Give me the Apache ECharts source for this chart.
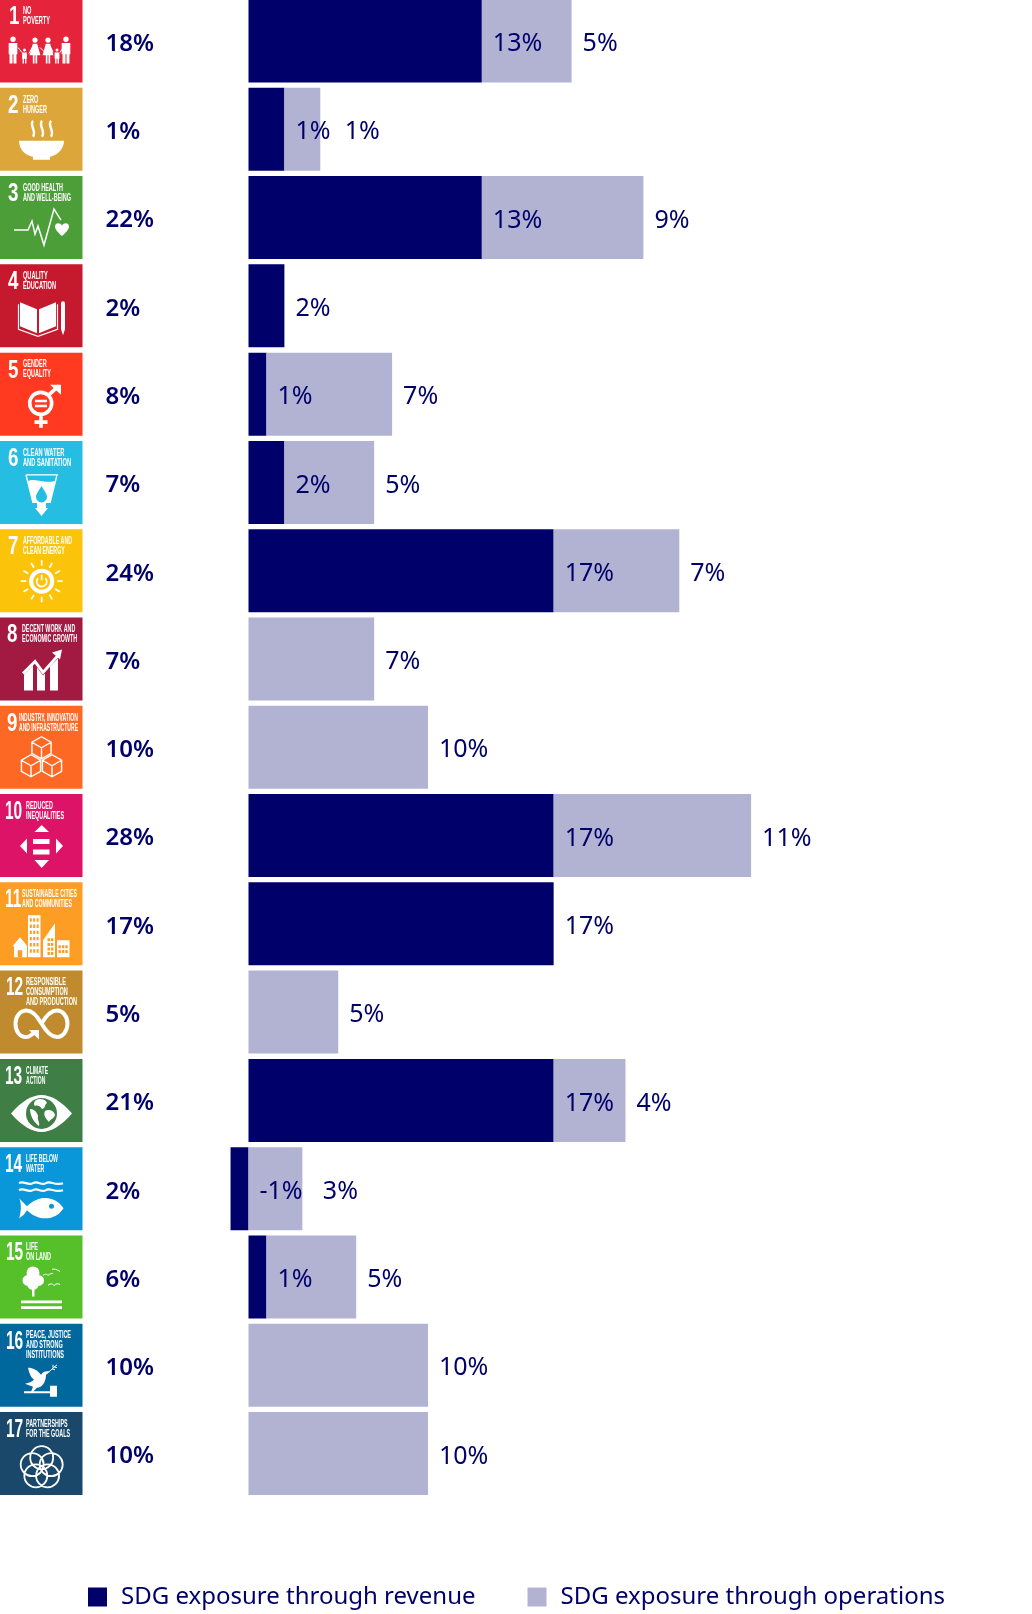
<!DOCTYPE html>
<html>
<head>
<meta charset="utf-8">
<title>SDG exposure</title>
<style>
  html, body { margin: 0; padding: 0; background: #fff; }
  #chart { width: 1032px; height: 1614px; }
</style>
<script src="https://cdn.jsdelivr.net/npm/echarts@6/dist/echarts.min.js"></script>
</head>
<body>
<div id="chart"></div>
<script>
const goals = ['1','2','3','4','5','6','7','8','9','10','11','12','13','14','15','16','17'];
// bar lengths as drawn, the printed labels do not always agree with them (goal 2)
const revenue = [13, 2, 13, 2, 1, 2, 17, 0, 0, 17, 17, 0, 17, -1, 1, 0, 0];
const operations = [5, 2, 9, 0, 7, 5, 7, 7, 10, 11, 0, 5, 4, 3, 5, 10, 10];
const revenueLabels = ['13%','1%','13%','2%','1%','2%','17%','','','17%','17%','','17%','-1%','1%','',''];
const operationsLabels = ['5%','1%','9%','','7%','5%','7%','7%','10%','11%','','5%','4%','3%','5%','10%','10%'];
const totalLabels = ['18%','1%','22%','2%','8%','7%','24%','7%','10%','28%','17%','5%','21%','2%','6%','10%','10%'];

const tileColors = ['#e5243b','#dda63a','#4c9f38','#c5192d','#ff3a21','#26bde2','#fcc30b','#a21942','#fd6925','#dd1367','#fd9d24','#bf8b2e','#3f7e44','#0a97d9','#56c02b','#00689d','#19486a'];
const tileCaptions = [
  ['NO','POVERTY'], ['ZERO','HUNGER'], ['GOOD HEALTH','AND WELL-BEING'], ['QUALITY','EDUCATION'],
  ['GENDER','EQUALITY'], ['CLEAN WATER','AND SANITATION'], ['AFFORDABLE AND','CLEAN ENERGY'],
  ['DECENT WORK AND','ECONOMIC GROWTH'], ['INDUSTRY, INNOVATION','AND INFRASTRUCTURE'],
  ['REDUCED','INEQUALITIES'], ['SUSTAINABLE CITIES','AND COMMUNITIES'],
  ['RESPONSIBLE','CONSUMPTION','AND PRODUCTION'], ['CLIMATE','ACTION'], ['LIFE BELOW','WATER'],
  ['LIFE','ON LAND'], ['PEACE, JUSTICE','AND STRONG','INSTITUTIONS'], ['PARTNERSHIPS','FOR THE GOALS']
];
const captionX = [23,23,23,23,23,23,23,22,19,26,22,26,26,26,26,26,26];
const captionW = [27,24,48,33,28,48,49,55,59,38,55,51,22,32,25,45,44];
const numberX = [9,8,8,8,8,8,8,7,7,5,5,6,5,5,6,6,6];

const NAVY = '#00006b';
const LILAC = '#b2b2d2';

// the source pushes these two labels clear of the revenue label next to them
const operationsNudge = { 1: 13.5, 13: 9.5 };

// little path helpers for the pictograms, all in tile coordinates
function circle(cx, cy, r) {
  return `M${cx - r} ${cy}A${r} ${r} 0 1 1 ${cx + r} ${cy}A${r} ${r} 0 1 1 ${cx - r} ${cy}Z`;
}
function box(x, y, w, h) {
  return `M${x} ${y}H${x + w}V${y + h}H${x}Z`;
}
function man(cx, top, h) {
  const r = h * 0.1, s = top + r * 2 + 1, w = h * 0.16;
  return circle(cx, top + r, r) +
    `M${cx - w} ${s}H${cx + w}V${s + h * 0.42}H${cx + w * 0.8}V${top + h}H${cx + 0.5}V${s + h * 0.42}H${cx - 0.5}V${top + h}H${cx - w * 0.8}V${s + h * 0.42}H${cx - w}Z`;
}
function woman(cx, top, h) {
  const r = h * 0.1, s = top + r * 2 + 1, w = h * 0.14;
  return circle(cx, top + r, r) +
    `M${cx - w * 0.6} ${s}H${cx + w * 0.6}L${cx + w * 1.5} ${top + h * 0.68}H${cx + w * 0.6}V${top + h}H${cx + 0.5}V${top + h * 0.68}H${cx - 0.5}V${top + h}H${cx - w * 0.6}V${top + h * 0.68}H${cx - w * 1.5}Z`;
}
function cube(cx, cy, s) {
  const w = s * 0.87;
  return `M${cx} ${cy - s}L${cx + w} ${cy - s / 2}V${cy + s / 2}L${cx} ${cy + s}L${cx - w} ${cy + s / 2}V${cy - s / 2}ZM${cx - w} ${cy - s / 2}L${cx} ${cy}L${cx + w} ${cy - s / 2}M${cx} ${cy}V${cy + s}`;
}
function sunRays() {
  let d = '';
  for (let a = 0; a < 12; a++) {
    const t = a * Math.PI / 6;
    d += `M${41.7 + 15.5 * Math.cos(t)} ${52 + 15.5 * Math.sin(t)}L${41.7 + 21 * Math.cos(t)} ${52 + 21 * Math.sin(t)}`;
  }
  return d;
}
function windows() {
  let d = '';
  for (let r = 0; r < 6; r++) for (let c = 0; c < 3; c++) d += box(29.8 + c * 3.4, 36 + r * 6.2, 2, 3.4);
  d += box(17.8, 68, 4.4, 7);
  for (let r = 0; r < 2; r++) for (let c = 0; c < 3; c++) d += box(58.5 + c * 3.4, 63 + r * 4.8, 2.4, 3);
  for (let r = 0; r < 4; r++) for (let c = 0; c < 2; c++) d += box(47.5 + c * 3.4, 56 + r * 4.6, 2.4, 3);
  return d;
}
function flower() {
  let d = '';
  for (let a = 0; a < 5; a++) {
    const t = -Math.PI / 2 + a * 2 * Math.PI / 5;
    d += circle(41.7 + 10 * Math.cos(t), 55.7 + 10 * Math.sin(t), 11.5);
  }
  return d;
}

const tileIcons = [
  { fill: man(13, 37, 27) + woman(35, 38, 26) + woman(48, 38, 26) + man(66, 37, 27) + man(24.5, 49, 15) + man(57, 49, 15),
    stroke: 'M18 48L22 53M29 54L32 48M40 48L44 52M51 48L53 53M60 53L63 48', lw: 1 },
  { fill: 'M19 53H64C64 63 55 68 50 69V72H33V69C27 68 19 63 19 53Z',
    stroke: 'M33 33C29 38 37 43 33 49M42 33C38 38 46 43 42 49M51 33C47 38 55 43 51 49', lw: 2.4 },
  { fill: 'M62 60C56 55 55 52 55 50.5C55 46.5 60 46 62 49.5C64 46 69 46.5 69 50.5C69 52 68 55 62 60Z',
    stroke: 'M14 54H28L32 45L35 58L38 50L44 69L54 33L61 44', lw: 1.5 },
  { fill: 'M20 38L37 45V69L20 62ZM39 45L56 38V62L39 69ZM61 39A2 2 0 0 1 65 39V65L63 71L61 65Z',
    stroke: 'M18.5 40V65L38 72L57.5 65V40', lw: 1.2 },
  { fill: box(35, 47, 12, 2.6) + box(35, 52, 12, 2.6) + 'M50 32H61V42Z',
    stroke: circle(40.7, 50.7, 11) + 'M41 62V75M34.5 69.5H47.5M48 43L59 33', lw: 3.6 },
  { fill: 'M28 40C35 37 42 43 55 40L50 62H46V67H48L41.5 75L35 67H37V62H33Z',
    cut: 'M41.5 45C38 51 36 53 36 56A5.5 5.5 0 0 0 47 56C47 53 45 51 41.5 45Z',
    stroke: 'M26 34H57L50 62M26 34L33 62', lw: 1.4 },
  { fill: circle(41.7, 52, 12.5), cut: circle(41.7, 52, 8.5),
    stroke: sunRays() + 'M38 49A5 5 0 1 0 45.4 49M41.7 45.5V51', lw: 1.7 },
  { fill: 'M24 57L33 48V73H24ZM37 50L43 58L45 56V73H37ZM50 49L58 41V73H50ZM52 35L62 32L60 42Z',
    stroke: 'M23 56L35 44L43 55L58 38', lw: 3 },
  { stroke: cube(41.5, 42, 11) + cube(31, 60, 11) + cube(52, 60, 11), lw: 1.4 },
  { fill: 'M41.7 31L49 38H34.5ZM41.7 74L49 66H34.5ZM20 52L27 44.5V59.5ZM63 52L56 44.5V59.5Z' + box(33, 45, 16.5, 5) + box(33, 55.5, 16.5, 5) },
  { fill: 'M20 55L27.5 64H27V75H14V64H12.5Z' + box(28, 33, 12.5, 42) + 'M43 75V58L55 41V75Z' + box(57, 58, 12.5, 17),
    cut: windows() },
  { stroke: 'M34 62C31 65 29 66.5 26 66.5C19 66.5 15.5 60 15.5 53C15.5 46 20 40 26.5 40C33 40 38 47 41.5 53C45 59 50 66.5 57 66.5C63 66.5 67.5 60 67.5 53C67.5 46 63 40 57 40C50 40 45 47 41.5 53',
    fill: 'M29 59.5H39V69Z', lw: 4 },
  { fill: 'M11 54.5C22 42 32 36 41.5 36C51 36 61 42 72 54.5C61 67 51 73 41.5 73C32 73 22 67 11 54.5Z',
    cut: circle(41.5, 54.5, 15.5),
    top: 'M36 41C41 39 46 41 47 44C44 46 46 49 42 50C40 47 37 46 35 47C33 45 34 43 36 41ZM45 52C49 50 54 52 55 56C54 60 50 60 49 63C46 60 43 56 45 52ZM30 50C34 50 37 53 38 57C37 61 40 63 39 67C35 64 30 58 30 50Z' },
  { fill: 'M19 51C23 55 25 57 27 59C34 52 42 50 48 51C56 52 61 57 63.5 61C61 65 56 70 48 71C41 72 33 69 27 63C25 66 23 69 19 71C21 66 22 56 19 51Z',
    cut: circle(51.5, 59, 2.5),
    stroke: 'M19 36C24 33 28 39 33 36C38 33 41 39 46 36C50 33 55 39 63 36M19 43C24 40 28 46 33 43C38 40 41 46 46 43C50 40 55 46 63 43', lw: 2.2 },
  { fill: circle(33, 37.5, 6.5) + circle(28, 45, 5.5) + circle(38.5, 45, 5.5) + circle(33, 48.5, 6) + box(32, 52, 2.5, 9) + box(21, 65, 41, 2.8) + box(21, 70.7, 41, 2.8),
    stroke: 'M43 40C45 38 47 39 48 40C50 38 52 38 53 38M52 34C54 33 57 34 60 36M48 50C51 47 53 49 54 50C56 48 58 48 60 49', lw: 1 },
  { fill: 'M28 44C33 44 37 46 41 51C43 48 46 47 50 48L46 51C46 58 42 64 37 64L33 68H31L33 63L25 60C29 59 32 58 34 56C31 54 29 49 28 44Z' + box(24, 67.5, 27, 2) + box(50, 62, 7, 11),
    stroke: 'M49 48L57 41M52 45L55 46M54 43L57 44M53 44L53 41', lw: 1 },
  { stroke: flower(), lw: 1.8 }
];

// tile 82.5 wide, text squeezed horizontally since no condensed face is installed
const measure = document.createElement('canvas').getContext('2d');
function renderTile(params, api) {
  const i = api.value(1);
  const y = api.coord([0, i])[1] - 41.5;
  const icon = tileIcons[i];
  const white = '#fff';
  const children = [{ type: 'rect', shape: { x: 0, y: 0, width: 82.5, height: 83 }, style: { fill: tileColors[i] } }];

  const numFont = 'bold 25px "Liberation Sans Narrow", "Liberation Sans"';
  children.push({
    type: 'text', x: numberX[i], y: 18,
    scaleX: i > 8 ? 0.62 : 0.75,
    style: { text: goals[i], font: numFont, fill: white, verticalAlign: 'middle' }
  });
  const capFont = 'bold 10px "Liberation Sans Narrow", "Liberation Sans"';
  measure.font = capFont;
  const lines = tileCaptions[i];
  const longest = Math.max(...lines.map((s) => measure.measureText(s).width));
  lines.forEach((line, k) => {
    children.push({
      type: 'text', x: captionX[i], y: 12 + k * 10,
      scaleX: captionW[i] / longest,
      style: { text: line, font: capFont, fill: white, verticalAlign: 'middle' }
    });
  });

  if (icon.fill) children.push({ type: 'path', shape: { pathData: icon.fill }, style: { fill: white } });
  if (icon.cut) children.push({ type: 'path', shape: { pathData: icon.cut }, style: { fill: tileColors[i] } });
  if (icon.top) children.push({ type: 'path', shape: { pathData: icon.top }, style: { fill: white } });
  if (icon.stroke) children.push({ type: 'path', shape: { pathData: icon.stroke }, style: { fill: 'none', stroke: white, lineWidth: icon.lw } });

  return { type: 'group', x: 0, y: y, children: children };
}

const chart = echarts.init(document.getElementById('chart'), null, { renderer: 'canvas' });
const labelFont = { fontFamily: '"Noto Sans"', fontSize: 25, color: NAVY };

chart.setOption({
  animation: false,
  // first and last category sit on the grid edges, the top tile runs right off the page
  grid: { left: 212.6, top: 41, width: 807.75, height: 1412.5 },
  xAxis: { type: 'value', min: -2, max: 43, show: false },
  yAxis: {
    type: 'category',
    inverse: true,
    boundaryGap: false,
    data: goals,
    axisLine: { show: false },
    axisTick: { show: false },
    splitLine: { show: false },
    axisLabel: {
      margin: 107,
      align: 'left',
      interval: 0,
      formatter: (value, index) => `{t|${totalLabels[index]}}`,
      rich: {
        t: { fontFamily: '"Noto Sans"', fontSize: 24, fontWeight: 600, color: NAVY, padding: [6, 0, 0, 0] }
      }
    }
  },
  legend: {
    left: 83,
    top: 1580,
    itemWidth: 19,
    itemHeight: 19,
    itemGap: 52,
    icon: 'rect',
    selectedMode: false,
    data: ['SDG exposure through revenue', 'SDG exposure through operations'],
    textStyle: { fontFamily: '"Noto Sans"', fontSize: 24, color: NAVY, padding: [0, 0, 0, 9] }
  },
  series: [
    {
      name: 'SDG exposure through revenue',
      type: 'bar',
      stack: 'sdg',
      barWidth: 83,
      clip: false,
      data: revenue,
      itemStyle: { color: NAVY },
      label: { show: true, position: 'right', distance: 11, ...labelFont, offset: [0, 3], formatter: (p) => revenueLabels[p.dataIndex] }
    },
    {
      name: 'SDG exposure through operations',
      type: 'bar',
      stack: 'sdg',
      barWidth: 83,
      clip: false,
      data: operations,
      itemStyle: { color: LILAC },
      label: { show: true, position: 'right', distance: 11, ...labelFont, formatter: (p) => operationsLabels[p.dataIndex] },
      labelLayout: (p) => ({ dx: operationsNudge[p.dataIndex] || 0, dy: 3 })
    },
    {
      type: 'custom',
      silent: true,
      clip: false,
      renderItem: renderTile,
      encode: { x: 0, y: 1 },
      data: goals.map((g, i) => [0, i])
    }
  ]
});
</script>
</body>
</html>
